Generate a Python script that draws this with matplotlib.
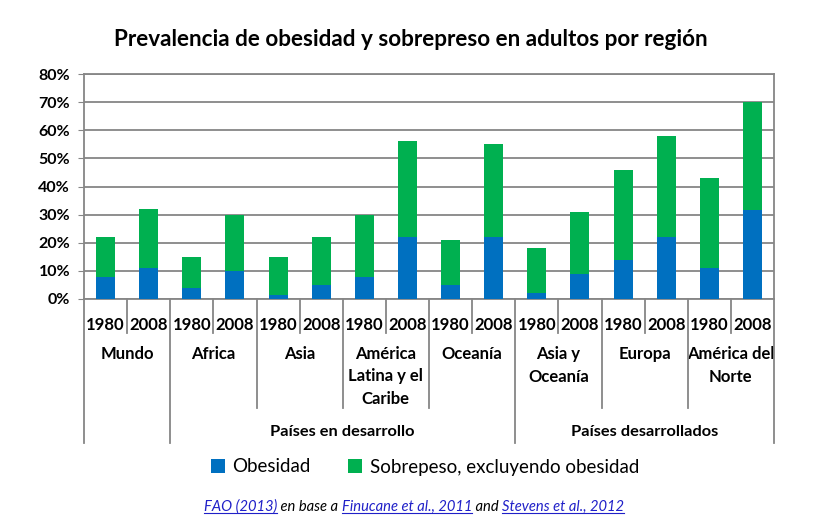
import numpy as np
import matplotlib
matplotlib.use("Agg")
import matplotlib.pyplot as plt
from matplotlib.lines import Line2D
from matplotlib.transforms import blended_transform_factory

plt.rcParams['font.family'] = ['Lato', 'DejaVu Sans']

regions = ["Mundo", "Africa", "Asia", "América\nLatina y el\nCaribe", "Oceanía",
           "Asia y\nOceanía", "Europa", "América del\nNorte"]
years = ["1980", "2008"]
obesidad = [8, 11, 4, 10, 1.5, 5, 8, 22, 5, 22, 2, 9, 14, 22, 11, 31.5]
sobrepeso = [14, 21, 11, 20, 13.5, 17, 22, 34, 16, 33, 16, 22, 32, 36, 32, 38.5]
groups = [("Países en desarrollo", 1, 4), ("Países desarrollados", 5, 7)]

blue = "#0070C0"
green = "#00B050"
grid = "#868686"

W, H = 828, 530
fig = plt.figure(figsize=(W / 100, H / 100), dpi=100)
ax = fig.add_axes([84 / W, 1 - 299 / H, 690 / W, 225 / H])

x = np.arange(len(obesidad))
ob = np.array(obesidad) / 100
sp = np.array(sobrepeso) / 100
ax.bar(x, ob, width=0.44, color=blue, label="Obesidad", zorder=3)
ax.bar(x, sp, width=0.44, bottom=ob, color=green,
       label="Sobrepeso, excluyendo obesidad", zorder=3)

ax.set_xlim(-0.5, len(x) - 0.5)
ax.set_ylim(0, 0.8)
ax.set_yticks(np.arange(0, 0.81, 0.1))
ax.set_yticklabels([f"{int(round(v * 100))}%" for v in np.arange(0, 0.81, 0.1)],
                   fontsize=11.5, fontweight="bold")
ax.yaxis.grid(True, color=grid, linewidth=1.3, zorder=0)
ax.set_xticks([])
ax.tick_params(axis="y", length=4, color=grid, pad=6)
for s in ax.spines.values():
    s.set_color(grid)
    s.set_linewidth(1.3)

tr = blended_transform_factory(ax.transData, fig.transFigure)


def fy(py):
    return 1 - py / H


def vline(xv, y0, y1):
    fig.add_artist(Line2D([xv, xv], [fy(y0), fy(y1)], transform=tr,
                          color=grid, linewidth=1.3))


# year row
for i in range(len(x)):
    ax.text(x[i], fy(325), years[i % 2], transform=tr, ha="center", va="center",
            fontsize=12, fontweight="bold")
for i in range(len(regions)):
    vline(2 * i + 0.5, 299, 333)
    ax.text(2 * i + 0.5, fy(346), regions[i], transform=tr, ha="center", va="top",
            fontsize=12, fontweight="bold", linespacing=1.5)

bounds = {-0.5, len(x) - 0.5}
for name, a, b in groups:
    bounds.add(2 * a - 0.5)
    bounds.add(2 * b + 1.5)
    ax.text((2 * a - 0.5 + 2 * b + 1.5) / 2, fy(432), name, transform=tr,
            ha="center", va="center", fontsize=11.8, fontweight="bold")
for k in range(len(regions) + 1):
    xv = 2 * k - 0.5
    vline(xv, 299, 443 if xv in bounds else 408)

fig.text(411 / W, fy(40), "Prevalencia de obesidad y sobrepreso en adultos por región",
         ha="center", va="center", fontsize=16.2, fontweight="bold")

fig.legend(loc="center", bbox_to_anchor=(425 / W, fy(467)), ncol=2, frameon=False,
           fontsize=13.5, handlelength=0.75, handleheight=0.75, handletextpad=0.4,
           columnspacing=2.0)

# source line
pieces = [("FAO (2013)", True), (" en base a ", False), ("Finucane et al., 2011", True),
          (" and ", False), ("Stevens et al., 2012", True)]
link = "#2020C8"
renderer = fig.canvas.get_renderer()
px = 204
base = H - 511
for txt, is_link in pieces:
    t = fig.text(px / W, base / H, txt, ha="left", va="baseline", fontsize=10.6,
                 style="italic", color=link if is_link else "black")
    bb = t.get_window_extent(renderer)
    if is_link:
        fig.add_artist(Line2D([bb.x0 / W, bb.x1 / W], [(base - 2) / H] * 2,
                              transform=fig.transFigure, color=link, linewidth=0.8))
    px = bb.x1

fig.savefig("out.png", dpi=100)
